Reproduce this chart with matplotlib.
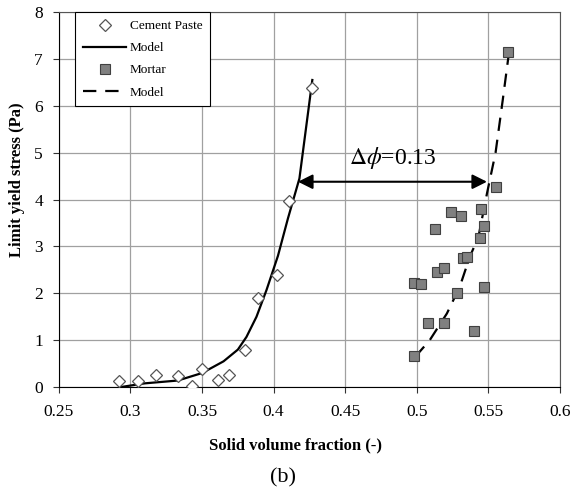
import matplotlib
matplotlib.use("Agg")
import matplotlib.pyplot as plt

plt.rcParams['font.family'] = ['Liberation Serif', 'DejaVu Serif']
plt.rcParams['mathtext.fontset'] = 'stix'

# cement paste measurements
paste_phi = [0.292, 0.305, 0.318, 0.333, 0.343, 0.350, 0.361, 0.369, 0.380, 0.389, 0.402, 0.411, 0.427]
paste_tau = [0.13, 0.13, 0.26, 0.24, 0.02, 0.39, 0.16, 0.26, 0.79, 1.89, 2.40, 3.97, 6.37]

# model curve for paste
paste_model_phi = [0.293, 0.310, 0.333, 0.350, 0.365, 0.375, 0.381, 0.388, 0.395, 0.403, 0.410, 0.418, 0.427]
paste_model_tau = [0.00, 0.08, 0.14, 0.30, 0.55, 0.80, 1.07, 1.50, 2.07, 2.80, 3.60, 4.45, 6.55]

# mortar measurements
mortar_phi = [0.498, 0.508, 0.519, 0.540, 0.528, 0.547, 0.498, 0.503, 0.514, 0.519, 0.532,
              0.535, 0.544, 0.547, 0.513, 0.524, 0.531, 0.545, 0.555, 0.564]
mortar_tau = [0.67, 1.36, 1.36, 1.19, 2.01, 2.14, 2.22, 2.20, 2.45, 2.54, 2.76,
              2.77, 3.17, 3.44, 3.38, 3.74, 3.65, 3.79, 4.27, 7.15]

# model curve for mortar
mortar_model_phi = [0.499, 0.509, 0.521, 0.530, 0.537, 0.543, 0.549, 0.555, 0.560, 0.564]
mortar_model_tau = [0.65, 1.00, 1.57, 2.14, 2.78, 3.20, 4.13, 5.00, 6.12, 7.05]

delta_left, delta_right, delta_level = 0.417, 0.549, 4.38

fig = plt.figure(figsize=(5.72, 4.9), dpi=100)
ax = fig.add_axes([0.103, 0.210, 0.876, 0.7655])

ax.plot(paste_phi, paste_tau, linestyle='none', marker='D', ms=6.5,
        mfc='white', mec='#555555', mew=0.9, label='Cement Paste', zorder=4)
ax.plot(paste_model_phi, paste_model_tau, color='black', lw=1.6, label='Model', zorder=3)
ax.plot(mortar_phi, mortar_tau, linestyle='none', marker='s', ms=7.5,
        mfc='#808080', mec='#404040', mew=0.8, label='Mortar', zorder=4)
ax.plot(mortar_model_phi, mortar_model_tau, color='black', lw=1.6,
        dashes=(6, 4), label='Model', zorder=3)

ax.annotate('', xy=(delta_right, delta_level), xytext=(delta_left, delta_level),
            arrowprops=dict(arrowstyle='<|-|>', color='black', lw=1.5,
                            mutation_scale=22, shrinkA=0, shrinkB=0), zorder=5)
ax.text((delta_left + delta_right) / 2, delta_level + 0.22, r'$\Delta\phi$=0.13',
        ha='center', va='bottom', fontsize=17)

ax.set_xlim(0.25, 0.6)
ax.set_ylim(0, 8)
ax.set_xticks([0.25, 0.3, 0.35, 0.4, 0.45, 0.5, 0.55, 0.6])
ax.set_xticklabels(['0.25', '0.3', '0.35', '0.4', '0.45', '0.5', '0.55', '0.6'])
ax.set_yticks(range(9))
ax.tick_params(direction='out', length=4.5, width=0.8, labelsize=12.5, color='#333333')
ax.tick_params(axis='x', pad=8)
ax.tick_params(axis='y', pad=7)
ax.grid(True, color='#a0a0a0', lw=0.9)
ax.set_axisbelow(True)
for side in ['top', 'right']:
    ax.spines[side].set_color('#555555')
for side in ['left', 'bottom']:
    ax.spines[side].set_color('black')

ax.set_xlabel('Solid volume fraction (-)', fontsize=12, fontweight='bold')
ax.xaxis.set_label_coords(0.473, -0.133)
ax.set_ylabel('Limit yield stress (Pa)', fontsize=12, fontweight='bold')
ax.yaxis.set_label_coords(-0.068, 0.552)

leg = ax.legend(loc='upper left', bbox_to_anchor=(0.032, 1.0), fontsize=9.5,
                numpoints=1, handlelength=3.3, handletextpad=0.25, frameon=True,
                fancybox=False, borderaxespad=0, labelspacing=0.75, borderpad=0.6)
leg.get_frame().set_edgecolor('black')
leg.get_frame().set_linewidth(0.8)
leg.get_frame().set_alpha(1)

fig.text(0.495, 0.025, '(b)', ha='center', va='center', fontsize=16)

fig.savefig('out.png', dpi=100)
